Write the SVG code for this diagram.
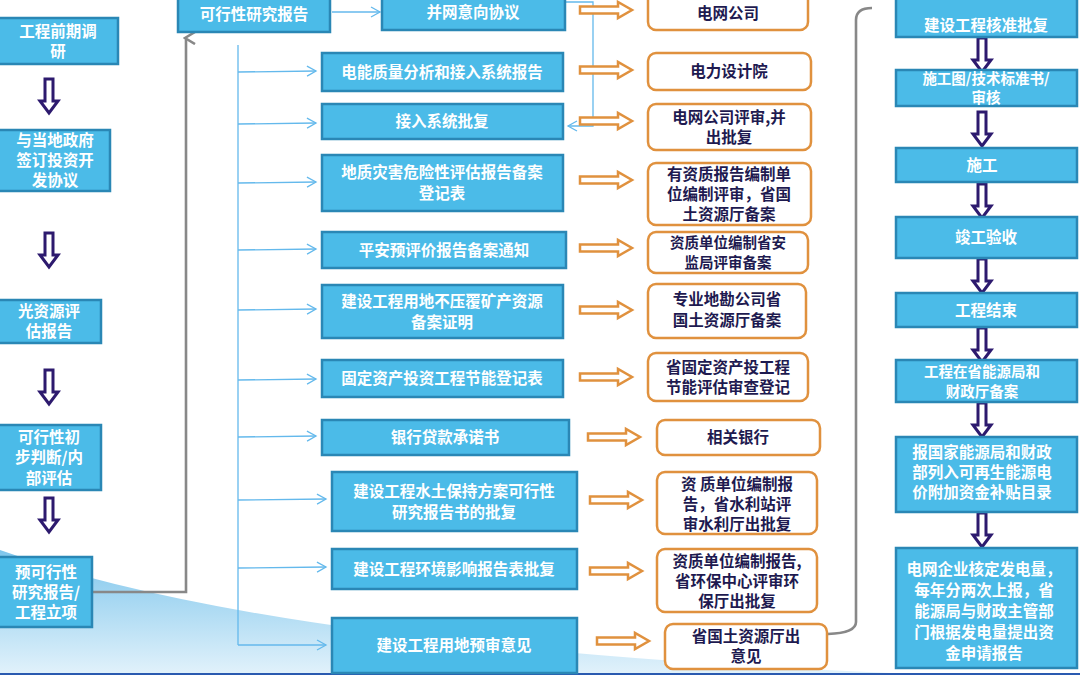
<svg xmlns="http://www.w3.org/2000/svg" width="1080" height="675" viewBox="0 0 1080 675">
<defs>
<style>
.b{fill:#4bbbe8;stroke:#2a87b5;stroke-width:2.5}
.o{fill:#fff;stroke:#e0913e;stroke-width:2.5}
.t{font-family:"Noto Sans CJK SC","Liberation Sans",sans-serif;font-weight:bold;font-size:15.5px;text-anchor:middle}
.s{font-size:14.5px}
.w{fill:#fff}
.k{fill:#1e1a50}
.br{stroke:#64b9ec;stroke-width:1.3;fill:none}
</style>
<linearGradient id="sw" x1="0" y1="0" x2="0" y2="1"><stop offset="0" stop-color="#7fc6ec"/><stop offset="1" stop-color="#e2f2fb"/></linearGradient>
<marker id="oa" markerWidth="12" markerHeight="12" refX="10" refY="6" orient="auto" markerUnits="userSpaceOnUse"><path d="M1,1 L10,6 L1,11" fill="none" stroke="#64b9ec" stroke-width="1.3"/></marker>
<marker id="ga" markerWidth="14" markerHeight="14" refX="7" refY="3" orient="auto-start-reverse" markerUnits="userSpaceOnUse"><path d="M1,12 L7,2 L13,12" fill="none" stroke="#888" stroke-width="2.6"/></marker>
<path id="da" d="M-4,0 H4 V22 H9 L0,34 L-9,22 H-4 Z" fill="#fff" stroke="#2d1a6e" stroke-width="3" stroke-linejoin="miter"/>
<path id="ra" d="M0,-3.5 H38 V-8 L52,0 L38,8 V3.5 H0 Z" fill="#fff" stroke="#e0913e" stroke-width="2.5"/>
</defs>
<rect width="1080" height="675" fill="#fff"/>
<path d="M0,550 Q280,650 940,675 L0,675 Z" fill="url(#sw)"/>
<line x1="0" y1="674" x2="1080" y2="674" stroke="#2a5ab0" stroke-width="2"/>

<g id="connectors">
<polyline points="92,592 186,592 186,38" fill="none" stroke="#888" stroke-width="2.6" marker-end="url(#ga)"/>
<line x1="332" y1="12" x2="380" y2="12" class="br" marker-end="url(#oa)"/>
<polyline points="565,2 593,2 593,126 568,126" class="br" marker-end="url(#oa)"/>
<line x1="238" y1="45" x2="238" y2="645" class="br"/>
<line x1="238" y1="72" x2="316" y2="71" class="br" marker-end="url(#oa)"/>
<line x1="238" y1="124" x2="316" y2="123" class="br" marker-end="url(#oa)"/>
<line x1="238" y1="183" x2="316" y2="182" class="br" marker-end="url(#oa)"/>
<line x1="238" y1="250" x2="316" y2="249" class="br" marker-end="url(#oa)"/>
<line x1="238" y1="310" x2="316" y2="309" class="br" marker-end="url(#oa)"/>
<line x1="238" y1="380" x2="316" y2="379" class="br" marker-end="url(#oa)"/>
<line x1="238" y1="437" x2="316" y2="436" class="br" marker-end="url(#oa)"/>
<line x1="238" y1="500" x2="326" y2="499" class="br" marker-end="url(#oa)"/>
<line x1="238" y1="568" x2="326" y2="567" class="br" marker-end="url(#oa)"/>
<line x1="238" y1="645" x2="326" y2="645" class="br" marker-end="url(#oa)"/>
<use href="#ra" x="580" y="10"/>
<use href="#ra" x="580" y="70"/>
<use href="#ra" x="580" y="121"/>
<use href="#ra" x="580" y="180"/>
<use href="#ra" x="580" y="248"/>
<use href="#ra" x="580" y="310"/>
<use href="#ra" x="580" y="377"/>
<use href="#ra" x="588" y="437"/>
<use href="#ra" x="590" y="500"/>
<use href="#ra" x="590" y="571"/>
<use href="#ra" x="597" y="641"/>
<use href="#da" x="49" y="79"/>
<use href="#da" x="49" y="233"/>
<use href="#da" x="49" y="370"/>
<use href="#da" x="49" y="498"/>
<use href="#da" x="982" y="38"/>
<use href="#da" x="982" y="112"/>
<use href="#da" x="982" y="184"/>
<use href="#da" x="982" y="259"/>
<use href="#da" x="982" y="328"/>
<use href="#da" x="982" y="403"/>
<use href="#da" x="982" y="513"/>
<path d="M872,8 Q856,8 856,20 V622 Q856,633 828,634" fill="none" stroke="#888" stroke-width="2.6"/>
</g>

<g id="n1"><rect class="b" x="-2" y="18" width="120" height="46"/><text class="t w" x="58" y="37">工程前期调</text><text class="t w" x="58" y="57">研</text></g>
<g id="n2"><rect class="b" x="-2" y="130" width="112" height="61"/><text class="t w" x="55" y="146" font-weight="normal">与当地政府</text><text class="t w" x="55" y="166" font-weight="normal">签订投资开</text><text class="t w" x="55" y="186" font-weight="normal">发协议</text></g>
<g id="n3"><rect class="b" x="-2" y="300" width="103" height="43"/><text class="t w" x="49" y="317">光资源评</text><text class="t w" x="49" y="337">估报告</text></g>
<g id="n4"><rect class="b" x="-2" y="425" width="103" height="65"/><text class="t w" x="49" y="443">可行性初</text><text class="t w" x="49" y="463">步判断/内</text><text class="t w" x="49" y="484">部评估</text></g>
<g id="n5"><rect class="b" x="-2" y="557" width="94" height="70"/><text class="t w" x="46" y="578">预可行性</text><text class="t w" x="46" y="598">研究报告/</text><text class="t w" x="46" y="618">工程立项</text></g>
<g id="n6"><rect class="b" x="178" y="-3" width="152" height="35"/><text class="t w" x="254" y="20">可行性研究报告</text></g>
<g id="n7"><rect class="b" x="382" y="-3" width="183" height="33"/><text class="t w" x="473" y="18">并网意向协议</text></g>
<g id="n8"><rect class="b" x="322" y="53" width="241" height="38"/><text class="t w" x="442" y="78">电能质量分析和接入系统报告</text></g>
<g id="n9"><rect class="b" x="322" y="104" width="241" height="35"/><text class="t w" x="442" y="127">接入系统批复</text></g>
<g id="n10"><rect class="b" x="322" y="155" width="241" height="56"/><text class="t w" x="442" y="178">地质灾害危险性评估报告备案</text><text class="t w" x="442" y="199">登记表</text></g>
<g id="n11"><rect class="b" x="322" y="232" width="244" height="36"/><text class="t w" x="444" y="256">平安预评价报告备案通知</text></g>
<g id="n12"><rect class="b" x="322" y="285" width="241" height="53"/><text class="t w" x="442" y="307">建设工程用地不压覆矿产资源</text><text class="t w" x="442" y="328">备案证明</text></g>
<g id="n13"><rect class="b" x="322" y="360" width="241" height="37"/><text class="t w" x="442" y="384">固定资产投资工程节能登记表</text></g>
<g id="n14"><rect class="b" x="322" y="420" width="247" height="35"/><text class="t w" x="445" y="443">银行贷款承诺书</text></g>
<g id="n15"><rect class="b" x="332" y="472" width="245" height="59"/><text class="t w" x="454" y="497">建设工程水土保持方案可行性</text><text class="t w" x="454" y="518">研究报告书的批复</text></g>
<g id="n16"><rect class="b" x="332" y="549" width="245" height="40"/><text class="t w" x="454" y="575">建设工程环境影响报告表批复</text></g>
<g id="n17"><rect class="b" x="332" y="618" width="245" height="55"/><text class="t w" x="454" y="651">建设工程用地预审意见</text></g>

<g id="o1"><rect class="o" x="648" y="-8" width="160" height="38" rx="8"/><text class="t k" x="728" y="19">电网公司</text></g>
<g id="o2"><rect class="o" x="648" y="53" width="163" height="37" rx="8"/><text class="t k" x="729" y="77">电力设计院</text></g>
<g id="o3"><rect class="o" x="648" y="104" width="163" height="46" rx="8"/><text class="t k" x="729" y="123">电网公司评审,并</text><text class="t k" x="729" y="143">出批复</text></g>
<g id="o4"><rect class="o" x="648" y="163" width="163" height="62" rx="8"/><text class="t k" x="729" y="180">有资质报告编制单</text><text class="t k" x="729" y="200">位编制评审，省国</text><text class="t k" x="729" y="220">土资源厅备案</text></g>
<g id="o5"><rect class="o" x="648" y="232" width="160" height="41" rx="8"/><text class="t k s" x="728" y="248">资质单位编制省安</text><text class="t k s" x="728" y="268">监局评审备案</text></g>
<g id="o6"><rect class="o" x="648" y="284" width="158" height="54" rx="8"/><text class="t k" x="727" y="305">专业地勘公司省</text><text class="t k" x="727" y="326">国土资源厅备案</text></g>
<g id="o7"><rect class="o" x="648" y="353" width="160" height="48" rx="8"/><text class="t k" x="728" y="373">省固定资产投工程</text><text class="t k" x="728" y="393">节能评估审查登记</text></g>
<g id="o8"><rect class="o" x="657" y="420" width="163" height="35" rx="8"/><text class="t k" x="738" y="443">相关银行</text></g>
<g id="o9"><rect class="o" x="657" y="472" width="160" height="62" rx="8"/><text class="t k" x="737" y="490">资 质单位编制报</text><text class="t k" x="737" y="510">告，省水利站评</text><text class="t k" x="737" y="530">审水利厅出批复</text></g>
<g id="o10"><rect class="o" x="657" y="549" width="160" height="63" rx="8"/><text class="t k" x="737" y="567">资质单位编制报告,</text><text class="t k" x="737" y="587">省环保中心评审环</text><text class="t k" x="737" y="607">保厅出批复</text></g>
<g id="o11"><rect class="o" x="665" y="624" width="162" height="45" rx="8"/><text class="t k" x="746" y="642">省国土资源厅出</text><text class="t k" x="746" y="662">意见</text></g>

<g id="r1"><rect class="b" x="896" y="-4" width="181" height="41"/><text class="t w" x="986" y="31">建设工程核准批复</text></g>
<g id="r2"><rect class="b" x="896" y="70" width="181" height="36"/><text class="t w s" x="986" y="84">施工图/技术标准书/</text><text class="t w s" x="986" y="103">审核</text></g>
<g id="r3"><rect class="b" x="896" y="148" width="181" height="34"/><text class="t w" x="982" y="171">施工</text></g>
<g id="r4"><rect class="b" x="896" y="217" width="181" height="41"/><text class="t w" x="986" y="243">竣工验收</text></g>
<g id="r5"><rect class="b" x="896" y="293" width="181" height="34"/><text class="t w" x="986" y="316">工程结束</text></g>
<g id="r6"><rect class="b" x="896" y="360" width="181" height="42"/><text class="t w s" x="982" y="377">工程在省能源局和</text><text class="t w s" x="982" y="397">财政厅备案</text></g>
<g id="r7"><rect class="b" x="896" y="437" width="181" height="75"/><text class="t w" x="982" y="458">报国家能源局和财政</text><text class="t w" x="982" y="478">部列入可再生能源电</text><text class="t w" x="982" y="498">价附加资金补贴目录</text></g>
<g id="r8"><rect class="b" x="896" y="548" width="181" height="120"/><text class="t w" x="984" y="575">电网企业核定发电量，</text><text class="t w" x="984" y="596">每年分两次上报，省</text><text class="t w" x="984" y="617">能源局与财政主管部</text><text class="t w" x="984" y="638">门根据发电量提出资</text><text class="t w" x="984" y="659">金申请报告</text></g>
</svg>
